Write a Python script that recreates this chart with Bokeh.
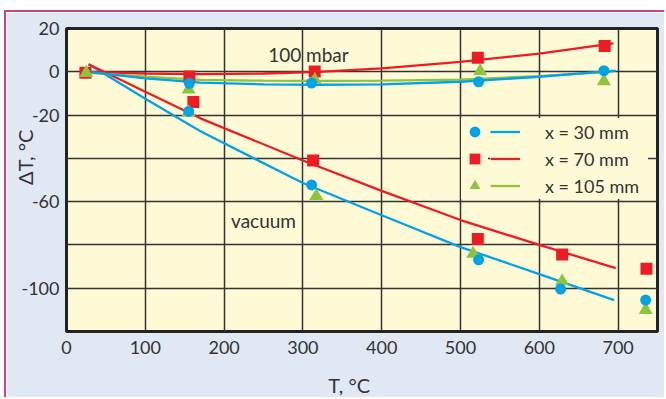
import math
from bokeh.plotting import figure
from bokeh.models import Range1d, FixedTicker, Legend, LegendItem, Label
from bokeh.embed import file_html
from bokeh.resources import INLINE

# ---------------- data ----------------
# measured points, vacuum (the room-temperature point is shared by both pressures)
t_30_vac = [155, 311, 523, 627, 735]
dt_30_vac = [-18.3, -52.3, -86.9, -100.4, -105.5]
t_70_vac = [24, 161, 313, 522, 629, 736]
dt_70_vac = [-0.4, -14.0, -41.0, -77.3, -84.4, -91.0]
t_105_vac = [25, 155, 317, 516, 629, 735]
dt_105_vac = [-0.5, -18.7, -57.4, -84.1, -96.8, -110.0]

# measured points, 100 mbar
t_30_mbar = [156, 311, 523, 682]
dt_30_mbar = [-5.3, -5.2, -4.6, 0.5]
t_70_mbar = [156, 315, 522, 683]
dt_70_mbar = [-2.2, 0.1, 6.5, 11.9]
t_105_mbar = [155, 315, 525, 682]
dt_105_mbar = [-8.2, -3.7, 0.3, -4.3]

# fitted curves
fit_t_30_vac = [28, 100, 170, 300, 400, 500, 600, 695]
fit_dt_30_vac = [3.5, -12.5, -27.5, -51.4, -66.3, -81.0, -93.5, -105.5]
fit_t_70_vac = [28, 100, 170, 300, 400, 500, 600, 697]
fit_dt_70_vac = [3.5, -9.2, -21.5, -41.0, -55.0, -68.5, -80.0, -90.7]
fit_t_30_mbar = [28, 100, 170, 250, 320, 400, 500, 600, 697]
fit_dt_30_mbar = [0, -3.0, -5.0, -5.8, -6.0, -5.8, -4.6, -2.3, 0.5]
fit_t_70_mbar = [28, 100, 170, 250, 320, 400, 500, 600, 694]
fit_dt_70_mbar = [0, -0.8, -1.1, -0.8, 0, 1.6, 4.6, 8.4, 13.1]
fit_t_105_mbar = [28, 100, 170, 250, 320, 400, 500, 600, 694]
fit_dt_105_mbar = [-0.5, -2.2, -3.7, -4.1, -4.2, -4.1, -3.6, -2.0, 0.1]

series_labels = ["x = 30 mm", "x = 70 mm", "x = 105 mm"]
x_ticks = [0, 100, 200, 300, 400, 500, 600, 700]
x_tick_labels = ["0", "100", "200", "300", "400", "500", "600", "700"]
y_ticks = [20, 0, -20, -40, -60, -80, -100]
y_tick_labels = ["20", "0", "-20", "", "-60", "", "-100"]
x_title = "T, °C"
y_title = "ΔT, °C"

# ---------------- style ----------------
BLUE = "#00a3e4"
RED = "#ec1c24"
GREEN = "#8cc43f"
YELLOW = "#fffad6"
OUTER = "#e0e8f4"
PINK = "#d0437e"
TEXT = "#333333"
FONT = "Lato"
NB = "\u00a0"

p = figure(width=660, height=387, x_range=Range1d(0, 750), y_range=Range1d(-120, 20),
           output_backend="svg", toolbar_location=None,
           min_border_left=60, min_border_right=9, min_border_top=16, min_border_bottom=66,
           background_fill_color=YELLOW, border_fill_color=OUTER,
           outline_line_color="#222222", outline_line_width=3)
p.styles = {"margin-top": "10px", "margin-left": "4px",
            "border-top": "2px solid " + PINK, "border-left": "2px solid " + PINK}

p.xaxis.ticker = FixedTicker(ticks=x_ticks)
p.yaxis.ticker = FixedTicker(ticks=y_ticks)
p.xaxis.major_label_overrides = dict(zip(x_ticks, x_tick_labels))
p.yaxis.major_label_overrides = dict(zip(y_ticks, y_tick_labels))
for ax in (p.xaxis[0], p.yaxis[0]):
    ax.axis_line_color = None
    ax.major_tick_line_color = None
    ax.minor_tick_line_color = None
    ax.major_tick_out = 0
    ax.major_tick_in = 0
    ax.major_label_text_font = FONT
    ax.major_label_text_font_size = "18px"
    ax.major_label_text_color = TEXT
    ax.axis_label_text_font = FONT
    ax.axis_label_text_font_size = "20px"
    ax.axis_label_text_font_style = "normal"
    ax.axis_label_text_color = TEXT
p.xaxis.major_label_standoff = 9
p.yaxis.major_label_standoff = 7
p.xaxis.axis_label = x_title + NB * 5
p.xaxis.axis_label_standoff = 16
p.yaxis.axis_label = NB * 9 + y_title
p.yaxis.axis_label_standoff = -19

for g in (p.xgrid[0], p.ygrid[0]):
    g.grid_line_color = "#333333"
    g.grid_line_width = 1.5

# curves
l30v = p.line(fit_t_30_vac, fit_dt_30_vac, line_color=BLUE, line_width=2.3)
l70v = p.line(fit_t_70_vac, fit_dt_70_vac, line_color=RED, line_width=2.3)
l70m = p.line(fit_t_70_mbar, fit_dt_70_mbar, line_color=RED, line_width=2.3)
l105m = p.line(fit_t_105_mbar, fit_dt_105_mbar, line_color=GREEN, line_width=2.3)
l30m = p.line(fit_t_30_mbar, fit_dt_30_mbar, line_color=BLUE, line_width=2.3)

# markers: red, green, blue order
s70 = p.scatter(t_70_vac, dt_70_vac, marker="square", size=12, fill_color=RED, line_color=None)
p.scatter(t_70_mbar, dt_70_mbar, marker="square", size=12, fill_color=RED, line_color=None)
s105 = p.scatter(t_105_vac, dt_105_vac, marker="triangle", size=14, fill_color=GREEN, line_color=None)
p.scatter(t_105_mbar, dt_105_mbar, marker="triangle", size=14, fill_color=GREEN, line_color=None)
s30 = p.scatter(t_30_vac, dt_30_vac, marker="circle", size=11, fill_color=BLUE, line_color=None)
p.scatter(t_30_mbar, dt_30_mbar, marker="circle", size=11, fill_color=BLUE, line_color=None)

# legends: markers column + lines/labels column
leg_common = dict(orientation="vertical", glyph_height=27, label_height=27, padding=2, spacing=0,
                  margin=0, background_fill_color=YELLOW, background_fill_alpha=1.0,
                  border_line_color=None, label_text_font=FONT, label_text_color=TEXT)
leg1 = Legend(items=[LegendItem(label=" ", renderers=[r]) for r in (s30, s70, s105)],
              location=(395, 132), glyph_width=27, label_standoff=0, label_width=0,
              label_text_font_size="8px", **leg_common)
leg2 = Legend(items=[LegendItem(label=lab, renderers=[r]) for lab, r in zip(series_labels, (l30v, l70v, l105m))],
              location=(424, 132), glyph_width=30, label_standoff=25, label_width=103,
              label_text_font_size="18px", **leg_common)
p.add_layout(leg1)
p.add_layout(leg2)

# annotations
txt = dict(text_font=FONT, text_color=TEXT, text_align="center", text_baseline="middle")
p.add_layout(Label(x=307, y=8.2, text="100 mbar", text_font_size="19px", **txt))
p.add_layout(Label(x=250, y=-68.9, text="vacuum", text_font_size="19px", **txt))

open("out.html", "w").write(file_html(p, INLINE))
